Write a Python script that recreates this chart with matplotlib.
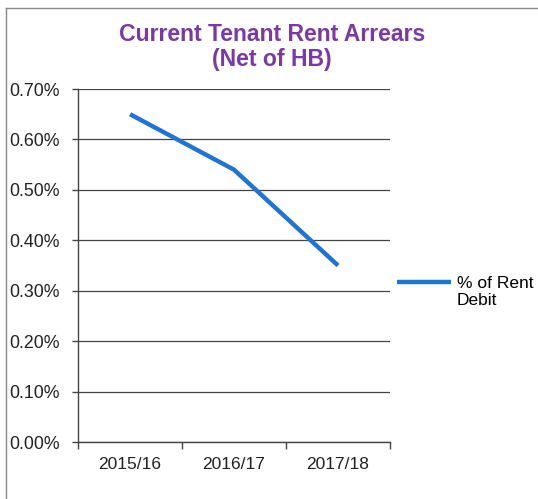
import matplotlib
matplotlib.use("Agg")
import matplotlib.pyplot as plt
from matplotlib.lines import Line2D
from matplotlib.ticker import FixedLocator

years = ["2015/16", "2016/17", "2017/18"]
pct_rent_debit = [0.65, 0.54, 0.35]
series_label_lines = ["% of Rent", "Debit"]
y_ticks = [0.0, 0.1, 0.2, 0.3, 0.4, 0.5, 0.6, 0.7]

plt.rcParams['font.family'] = ['Liberation Sans', 'DejaVu Sans']

fig = plt.figure(figsize=(5.38, 4.99), dpi=100)
ax = fig.add_axes([0.145, 0.1142, 0.58, 0.7074])

x = list(range(len(years)))
line, = ax.plot(x, pct_rent_debit, color="#1f74d4", lw=3.2, solid_capstyle="butt",
                solid_joinstyle="round", label=series_label_lines[0], zorder=3)

ax.set_xlim(-0.5, len(years) - 0.5)
ax.set_ylim(0, 0.7)
ax.set_yticks(y_ticks)
ax.set_yticklabels([f"{v:.2f}%" for v in y_ticks])
ax.set_xticks(x)
ax.set_xticklabels(years)
ax.xaxis.set_minor_locator(FixedLocator([i - 0.5 for i in range(len(years) + 1)]))

ax.grid(axis="y", color="#444444", lw=0.9)
ax.set_axisbelow(True)
for s in ["top", "right"]:
    ax.spines[s].set_visible(False)
for s in ["left", "bottom"]:
    ax.spines[s].set_color("#444444")
    ax.spines[s].set_linewidth(1.0)

ax.tick_params(axis="y", labelsize=12.8, colors="#444444", labelcolor="#222222",
               length=4, width=1, pad=9)
ax.tick_params(axis="x", which="major", length=0, labelsize=12.5, labelcolor="#222222", pad=11)
ax.tick_params(axis="x", which="minor", length=5, width=1, color="#444444")

fig.suptitle("Current Tenant Rent Arrears\n(Net of HB)", x=0.506, y=0.954,
             fontsize=16.6, fontweight="bold", color="#7a3aa6", linespacing=1.1)

blank = Line2D([], [], color="none")
ax.legend(handles=[line, blank], labels=series_label_lines, loc="upper left",
          bbox_to_anchor=(1.0, 0.49), frameon=False, fontsize=12.5,
          handlelength=3.1, handletextpad=0.35, borderaxespad=0.0, labelspacing=0.12)

# outer chart frame (left and top edges visible)
fig.add_artist(Line2D([0.011, 0.011], [0.0, 0.984], color="#888888", lw=1.0))
fig.add_artist(Line2D([0.011, 1.0], [0.984, 0.984], color="#888888", lw=1.0))

fig.savefig("out.png", dpi=100)
